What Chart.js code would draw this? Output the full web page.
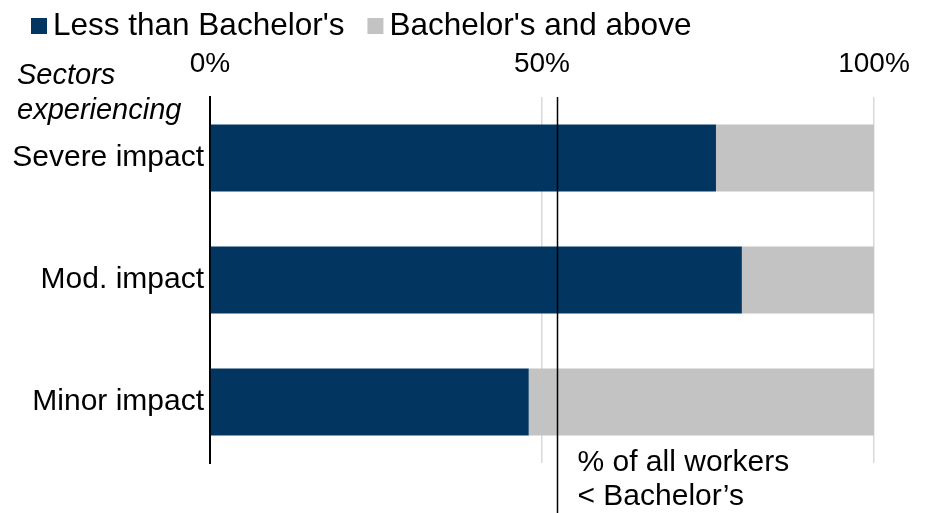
<!DOCTYPE html>
<html>
<head>
<meta charset="utf-8">
<script src="https://cdn.jsdelivr.net/npm/chart.js@4/dist/chart.umd.min.js"></script>
<style>
  html, body { margin: 0; padding: 0; background: #fff; }
  #wrap { width: 934px; height: 513px; position: relative; }
</style>
</head>
<body>
<div id="wrap"><canvas id="myChart"></canvas></div>
<script>
const categories = ['Severe impact', 'Mod. impact', 'Minor impact'];
const lessThanBachelors = [76.2, 80.1, 48.0];
const bachelorsAndAbove = [23.8, 19.9, 52.0];
const allWorkersShare = 52.3; // % of all workers < Bachelor's
const tickValues = [0, 50, 100];

const FONT = '"Liberation Sans", Arial, sans-serif';
const NAVY = '#023661';
const GREY = '#c3c3c3';

// legend, axis caption and the reference line with its note
const extras = {
  id: 'extras',
  afterDatasetsDraw(chart) {
    const { ctx, chartArea, scales } = chart;
    ctx.save();

    // vertical line for all workers
    const lx = Math.round(scales.x.getPixelForValue(allWorkersShare)) + 0.5;
    ctx.strokeStyle = '#000';
    ctx.lineWidth = 1.5;
    ctx.beginPath();
    ctx.moveTo(lx, chartArea.top);
    ctx.lineTo(lx, chart.height);
    ctx.stroke();

    ctx.fillStyle = '#000';
    ctx.font = '30px ' + FONT;
    ctx.textAlign = 'left';
    ctx.textBaseline = 'middle';
    ctx.fillText('% of all workers', lx + 20, 463);
    ctx.fillText('< Bachelor\u2019s', lx + 20, 497);

    // axis caption
    ctx.font = 'italic 29px ' + FONT;
    ctx.fillText('Sectors', 17, 76);
    ctx.fillText('experiencing', 17, 111);

    // legend
    ctx.font = '31.5px ' + FONT;
    let x = 31;
    chart.data.datasets.forEach(ds => {
      ctx.fillStyle = ds.backgroundColor;
      ctx.fillRect(x, 18, 16, 16);
      ctx.fillStyle = '#000';
      ctx.fillText(ds.label, x + 22, 26);
      x += 22 + ctx.measureText(ds.label).width + 23;
    });
    ctx.restore();
  }
};

const data = {
  labels: categories,
  datasets: [
    { label: "Less than Bachelor's", data: lessThanBachelors, backgroundColor: NAVY },
    { label: "Bachelor's and above", data: bachelorsAndAbove, backgroundColor: GREY }
  ]
};

const config = {
  type: 'bar',
  data: data,
  options: {
    indexAxis: 'y',
    responsive: true,
    maintainAspectRatio: false,
    animation: false,
    layout: { padding: { left: 0, right: 60, top: 0, bottom: 50 } },
    datasets: {
      bar: { barPercentage: 0.55, categoryPercentage: 1, borderWidth: 0 }
    },
    plugins: {
      legend: { display: false },
      tooltip: { enabled: false }
    },
    scales: {
      x: {
        position: 'top',
        stacked: true,
        min: 0,
        max: 100,
        afterBuildTicks: s => { s.ticks = tickValues.map(v => ({ value: v })); },
        afterFit: s => { s.height = 97; },
        border: { display: false },
        grid: {
          drawTicks: false,
          lineWidth: 1.5,
          color: c => (c.tick && c.tick.value === 0) ? 'rgba(0,0,0,0)' : '#d9d9d9'
        },
        ticks: {
          padding: 16,
          color: '#000',
          font: { family: FONT, size: 28 },
          callback: v => v + '%'
        }
      },
      y: {
        stacked: true,
        afterFit: s => { s.width = 210; },
        border: { display: true, color: '#000', width: 2 },
        grid: { display: false },
        ticks: {
          padding: -2,
          color: '#000',
          font: { family: FONT, size: 30 }
        }
      }
    }
  },
  plugins: [extras]
};

new Chart(document.getElementById('myChart').getContext('2d'), config);
</script>
</body>
</html>
